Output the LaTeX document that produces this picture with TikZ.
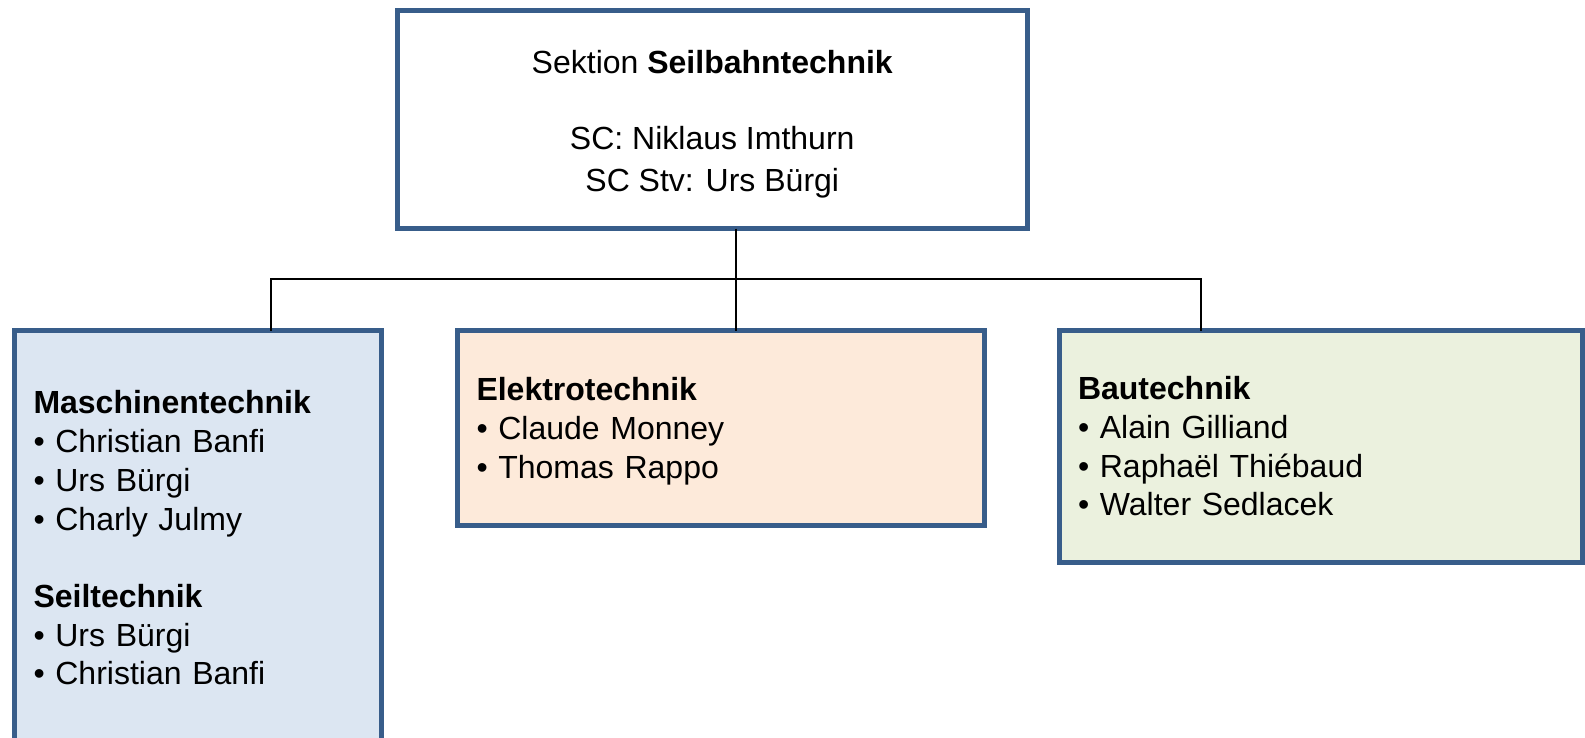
\documentclass[tikz,border=0pt]{standalone}
\usepackage{fontspec}
\setmainfont{Liberation Sans}
\usetikzlibrary{positioning,calc}
\definecolor{rahmen}{HTML}{385D8A}
\definecolor{maschfill}{HTML}{DCE6F2}
\definecolor{elektrofill}{HTML}{FDEADA}
\definecolor{baufill}{HTML}{EBF1DE}

\begin{document}
\begin{tikzpicture}[x=0.5pt,y=-0.5pt,
  box/.style={draw=rahmen, line width=2.5pt, outer sep=0pt, inner ysep=0pt,
    inner xsep=9.5pt, anchor=north west, font=\fontsize{16}{19.35}\selectfont},
  tree/.style={line width=0.85pt}]
\useasboundingbox (0,0) rectangle (1585,738);
% Sektion
\node[box, align=center, minimum width=314.75pt, minimum height=109pt,
  font=\fontsize{16}{20.7}\selectfont] (sektion) at (397.5,10.5)
  {\rule{0pt}{16.3pt}Sektion \textbf{Seilbahntechnik}\\[17.2pt] SC: Niklaus Imthurn\\ SC Stv: Urs Bürgi};
% Fachbereiche
\node[box, fill=maschfill, align=left, text width=164.25pt, minimum height=207.5pt] (masch) at (14.5,330.5)
  {\textbf{Maschinentechnik}\\ • Christian Banfi\\ • Urs Bürgi\\ • Charly Julmy\\[19.35pt]
   \textbf{Seiltechnik}\\ • Urs Bürgi\\ • Christian Banfi};
\node[box, fill=elektrofill, align=left, text width=244.25pt, minimum height=97.5pt,
  font=\fontsize{16}{19.7}\selectfont] (elektro) at (457.5,330.5)
  {\rule{0pt}{14.8pt}\textbf{Elektrotechnik}\\ • Claude Monney\\ • Thomas Rappo};
\node[box, fill=baufill, align=left, text width=242.5pt, minimum height=115.75pt] (bau) at (1059,330.5)
  {\textbf{Bautechnik}\\ • Alain Gilliand\\ • Raphaël Thiébaud\\ • Walter Sedlacek};
% Verbindungen
\coordinate (mitte) at (736,279);
\coordinate (links) at (271,279);
\coordinate (rechts) at (1201,279);
\draw[tree] (masch.north -| links) |- (rechts) -- (bau.north -| rechts);
\draw[tree, line width=1.35pt] (sektion.south -| mitte) -- (elektro.north -| mitte);
\end{tikzpicture}
\end{document}
